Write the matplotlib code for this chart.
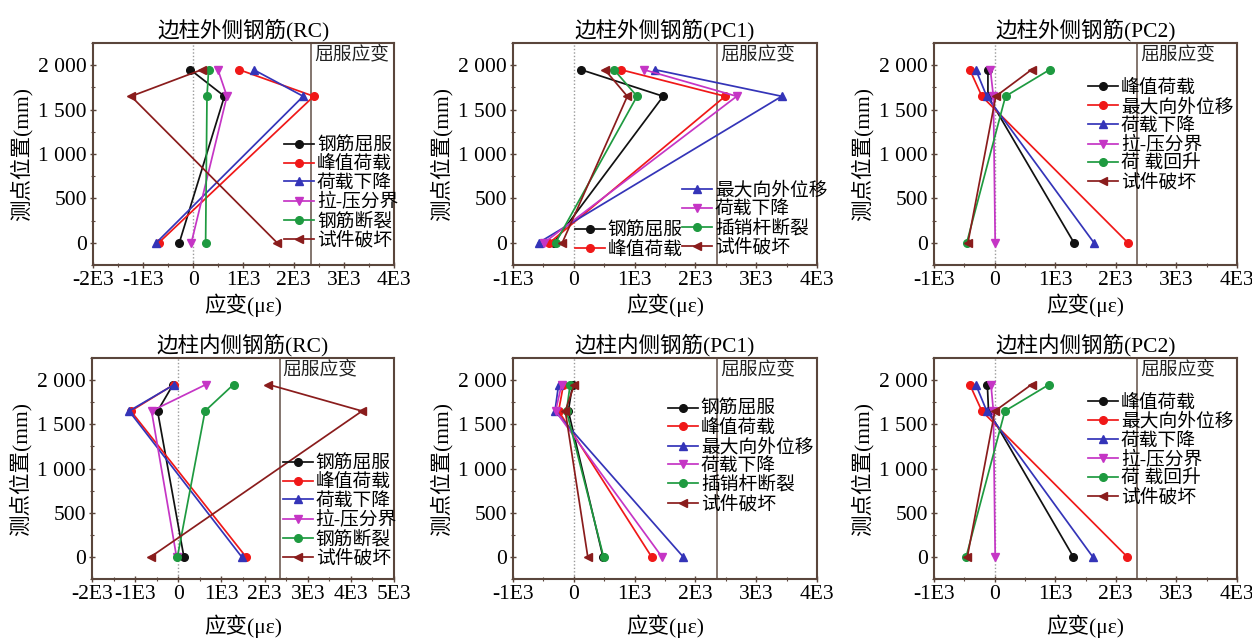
import matplotlib
matplotlib.use("Agg")
import matplotlib.pyplot as plt
from matplotlib.ticker import FuncFormatter, MultipleLocator

plt.rcParams['font.family'] = ['Liberation Serif', 'Noto Sans CJK SC']
plt.rcParams['axes.unicode_minus'] = False

# measuring heights of the gauges (mm)
heights = [0, 1650, 1950]
yield_strain = 2350

# ---- outer rebar, RC ----
rc_out_labels = ['钢筋屈服', '峰值荷载', '荷载下降', '拉-压分界', '钢筋断裂', '试件破坏']
rc_out_yield = [-280, 620, -60]
rc_out_peak = [-690, 2400, 910]
rc_out_drop = [-740, 2190, 1200]
rc_out_tc = [-40, 670, 490]
rc_out_break = [245, 272, 305]
rc_out_fail = [1670, -1240, 170]

# ---- outer rebar, PC1 ----
pc1_out_labels = ['钢筋屈服', '峰值荷载', '最大向外位移', '荷载下降', '插销杆断裂', '试件破坏']
pc1_out_yield = [-330, 1470, 115]
pc1_out_peak = [-400, 2490, 770]
pc1_out_maxdisp = [-580, 3420, 1330]
pc1_out_drop = [-490, 2680, 1150]
pc1_out_pin = [-300, 1040, 660]
pc1_out_fail = [-190, 880, 510]

# ---- outer rebar, PC2 ----
pc2_out_labels = ['峰值荷载', '最大向外位移', '荷载下降', '拉-压分界', '荷 载回升', '试件破坏']
pc2_out_peak = [1310, -110, -110]
pc2_out_maxdisp = [2200, -210, -410]
pc2_out_drop = [1640, -130, -310]
pc2_out_tc = [10, -20, -70]
pc2_out_rise = [-460, 180, 910]
pc2_out_fail = [-440, 20, 610]

# ---- inner rebar, RC ----
rc_in_labels = ['钢筋屈服', '峰值荷载', '荷载下降', '拉-压分界', '钢筋断裂', '试件破坏']
rc_in_yield = [130, -480, -120]
rc_in_peak = [1570, -1100, -100]
rc_in_drop = [1470, -1140, -90]
rc_in_tc = [-40, -620, 640]
rc_in_break = [-20, 620, 1280]
rc_in_fail = [-640, 4260, 2090]

# ---- inner rebar, PC1 ----
pc1_in_labels = ['钢筋屈服', '峰值荷载', '最大向外位移', '荷载下降', '插销杆断裂', '试件破坏']
pc1_in_yield = [480, -90, -20]
pc1_in_peak = [1280, -250, -170]
pc1_in_maxdisp = [1800, -310, -250]
pc1_in_drop = [1450, -300, -200]
pc1_in_pin = [490, -120, -60]
pc1_in_fail = [230, -140, 10]

# ---- inner rebar, PC2 ----
pc2_in_labels = ['峰值荷载', '最大向外位移', '荷载下降', '拉-压分界', '荷 载回升', '试件破坏']
pc2_in_peak = [1300, -100, -120]
pc2_in_maxdisp = [2190, -210, -410]
pc2_in_drop = [1620, -130, -310]
pc2_in_tc = [10, -20, -60]
pc2_in_rise = [-470, 170, 900]
pc2_in_fail = [-450, 5, 610]

# line styles for the six series of each panel
C_BLACK, C_RED, C_BLUE, C_MAG, C_GREEN, C_BROWN = (
    '#111111', '#f01818', '#3434b8', '#c535c5', '#1e9a40', '#8a1c1c')
styles = [(C_BLACK, 'o'), (C_RED, 'o'), (C_BLUE, '^'),
          (C_MAG, 'v'), (C_GREEN, 'o'), (C_BROWN, '<')]

FRAME = '#5a463c'

panels = [
    dict(title='边柱外侧钢筋(RC)', labels=rc_out_labels,
         series=[rc_out_yield, rc_out_peak, rc_out_drop, rc_out_tc, rc_out_break, rc_out_fail],
         xlim=(-2000, 4000), rect=(93, 43, 394, 265),
         leg=[((0.635, 0.575), list(range(6)))], xl=-0.18),
    dict(title='边柱外侧钢筋(PC1)', labels=pc1_out_labels,
         series=[pc1_out_yield, pc1_out_peak, pc1_out_maxdisp, pc1_out_drop, pc1_out_pin, pc1_out_fail],
         xlim=(-1000, 4000), rect=(513, 43, 817, 265),
         leg=[((0.556, 0.375), [2, 3, 4, 5]), ((0.204, 0.19), [0, 1])], xl=-0.18),
    dict(title='边柱外侧钢筋(PC2)', labels=pc2_out_labels,
         series=[pc2_out_peak, pc2_out_maxdisp, pc2_out_drop, pc2_out_tc, pc2_out_rise, pc2_out_fail],
         xlim=(-1000, 4000), rect=(934, 43, 1237, 265),
         leg=[((0.508, 0.835), list(range(6)))], xl=-0.18),
    dict(title='边柱内侧钢筋(RC)', labels=rc_in_labels,
         series=[rc_in_yield, rc_in_peak, rc_in_drop, rc_in_tc, rc_in_break, rc_in_fail],
         xlim=(-2000, 5000), rect=(92, 358, 394, 579),
         leg=[((0.632, 0.56), list(range(6)))], xl=-0.212),
    dict(title='边柱内侧钢筋(PC1)', labels=pc1_in_labels,
         series=[pc1_in_yield, pc1_in_peak, pc1_in_maxdisp, pc1_in_drop, pc1_in_pin, pc1_in_fail],
         xlim=(-1000, 4000), rect=(513, 358, 817, 579),
         leg=[((0.51, 0.805), list(range(6)))], xl=-0.212),
    dict(title='边柱内侧钢筋(PC2)', labels=pc2_in_labels,
         series=[pc2_in_peak, pc2_in_maxdisp, pc2_in_drop, pc2_in_tc, pc2_in_rise, pc2_in_fail],
         xlim=(-1000, 4000), rect=(934, 358, 1237, 579),
         leg=[((0.508, 0.835), list(range(6)))], xl=-0.212),
]

W, H = 1252, 640
fig = plt.figure(figsize=(W / 100, H / 100), dpi=100)


def xfmt(v, _):
    if abs(v) < 1e-6:
        return '0'
    return f'{int(round(v / 1000))}E3'


def yfmt(v, _):
    return f'{int(round(v)):,}'.replace(',', ' ')


for p in panels:
    x0, y0, x1, y1 = p['rect']
    ax = fig.add_axes([x0 / W, 1 - y1 / H, (x1 - x0) / W, (y1 - y0) / H])
    ax.set_xlim(*p['xlim'])
    ax.set_ylim(-250, 2250)

    ax.axvline(0, color='#9a9a9a', lw=1.0, ls=(0, (1, 1.5)), zorder=1)
    ax.axvline(yield_strain, color='#7a6a62', lw=1.3, zorder=1)
    ax.text(yield_strain + 60, 2120, '屈服应变', fontsize=13.5, ha='left', va='center',
            color='#222222', zorder=3)

    handles = []
    for vals, lab, (c, m) in zip(p['series'], p['labels'], styles):
        h, = ax.plot(vals, heights, color=c, marker=m, ms=5.5, lw=1.25,
                     label=lab, zorder=2)
        handles.append(h)

    legs = []
    for anchor, idx in p['leg']:
        lg = ax.legend([handles[i] for i in idx], [p['labels'][i] for i in idx],
                       loc='upper left', bbox_to_anchor=anchor, frameon=False,
                       fontsize=13.5, borderpad=0, borderaxespad=0,
                       handlelength=1.6, handletextpad=0.15, labelspacing=0.08)
        legs.append(lg)
    for lg in legs[:-1]:
        ax.add_artist(lg)

    ax.set_title(p['title'], fontsize=15.5, pad=5)
    ax.text(-0.237, 0.5, '测点位置(mm)', transform=ax.transAxes, rotation=90,
            ha='center', va='center', fontsize=15.5)
    ax.text(0.5, p['xl'], '应变(με)', transform=ax.transAxes,
            ha='center', va='center', fontsize=15.5)

    ax.xaxis.set_major_locator(MultipleLocator(1000))
    ax.xaxis.set_minor_locator(MultipleLocator(500))
    ax.yaxis.set_minor_locator(MultipleLocator(250))
    ax.set_yticks([0, 500, 1000, 1500, 2000])
    ax.xaxis.set_major_formatter(FuncFormatter(xfmt))
    ax.yaxis.set_major_formatter(FuncFormatter(yfmt))
    ax.tick_params(which='major', direction='inout', length=5, width=1,
                   color=FRAME, labelsize=15.5, pad=2)
    ax.tick_params(which='minor', direction='inout', length=3, width=0.8, color=FRAME)
    for s in ax.spines.values():
        s.set_color(FRAME)
        s.set_linewidth(1.5)

fig.savefig('out.png', dpi=100)
